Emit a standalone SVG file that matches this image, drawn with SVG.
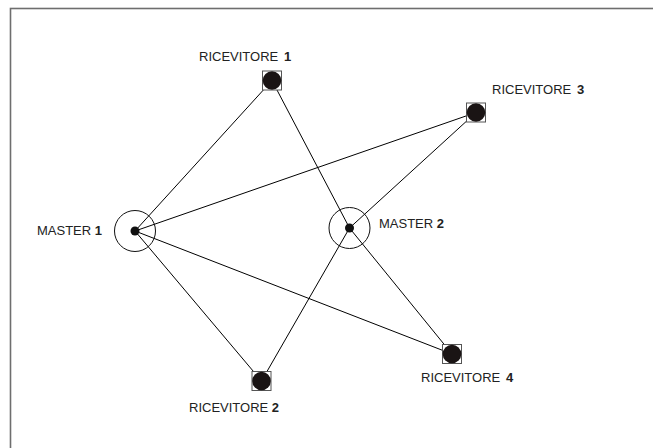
<svg xmlns="http://www.w3.org/2000/svg" width="653" height="448" viewBox="0 0 653 448">
  <style>
    .frame { fill: none; stroke: #6e6e6e; stroke-width: 1.6; }
    .link { stroke: #000; stroke-width: 1; fill: none; }
    .ring { fill: none; stroke: #111; stroke-width: 1; }
    .hub { fill: #111; }
    .box { fill: #fff; stroke: #555; stroke-width: 1; }
    .disc { fill: #1a1414; }
    .lbl { font-family: "Liberation Sans", Arial, sans-serif; font-size: 13px; fill: #222; }
    .num { font-weight: bold; }
  </style>
  <rect class="frame" x="10.5" y="8.5" width="700" height="500"/>

  <g id="connectors">
    <line class="link" x1="135" y1="231" x2="272" y2="80.5"/>
    <line class="link" x1="135" y1="231" x2="476" y2="112.5"/>
    <line class="link" x1="135" y1="231" x2="261.5" y2="381"/>
    <line class="link" x1="135" y1="231" x2="452" y2="354"/>
    <line class="link" x1="349.5" y1="228" x2="272" y2="80.5"/>
    <line class="link" x1="349.5" y1="228" x2="476" y2="112.5"/>
    <line class="link" x1="349.5" y1="228" x2="261.5" y2="381"/>
    <line class="link" x1="349.5" y1="228" x2="452" y2="354"/>
  </g>

  <g id="master1">
    <circle class="ring" cx="135" cy="231" r="20.5"/>
    <circle class="hub" cx="135" cy="231" r="4.5"/>
    <text class="lbl" x="37" y="234.5">MASTER <tspan class="num">1</tspan></text>
  </g>

  <g id="master2">
    <circle class="ring" cx="349.5" cy="228" r="20.5"/>
    <circle class="hub" cx="349.5" cy="228" r="4.5"/>
    <text class="lbl" x="379" y="228">MASTER <tspan class="num">2</tspan></text>
  </g>

  <g id="ricevitore1">
    <rect class="box" x="262.5" y="71" width="19" height="19"/>
    <circle class="disc" cx="272" cy="80.5" r="9.3"/>
    <text class="lbl" x="199" y="61">RICEVITORE <tspan class="num" x="284">1</tspan></text>
  </g>

  <g id="ricevitore3">
    <rect class="box" x="466.5" y="103" width="19" height="19"/>
    <circle class="disc" cx="476" cy="112.5" r="9.3"/>
    <text class="lbl" x="492" y="94">RICEVITORE <tspan class="num" x="577">3</tspan></text>
  </g>

  <g id="ricevitore2">
    <rect class="box" x="252" y="371.5" width="19" height="19"/>
    <circle class="disc" cx="261.5" cy="381" r="9.3"/>
    <text class="lbl" x="189" y="411.5">RICEVITORE <tspan class="num">2</tspan></text>
  </g>

  <g id="ricevitore4">
    <rect class="box" x="442.5" y="344.5" width="19" height="19"/>
    <circle class="disc" cx="452" cy="354" r="9.3"/>
    <text class="lbl" x="421" y="381.5">RICEVITORE <tspan class="num" x="506">4</tspan></text>
  </g>
</svg>
